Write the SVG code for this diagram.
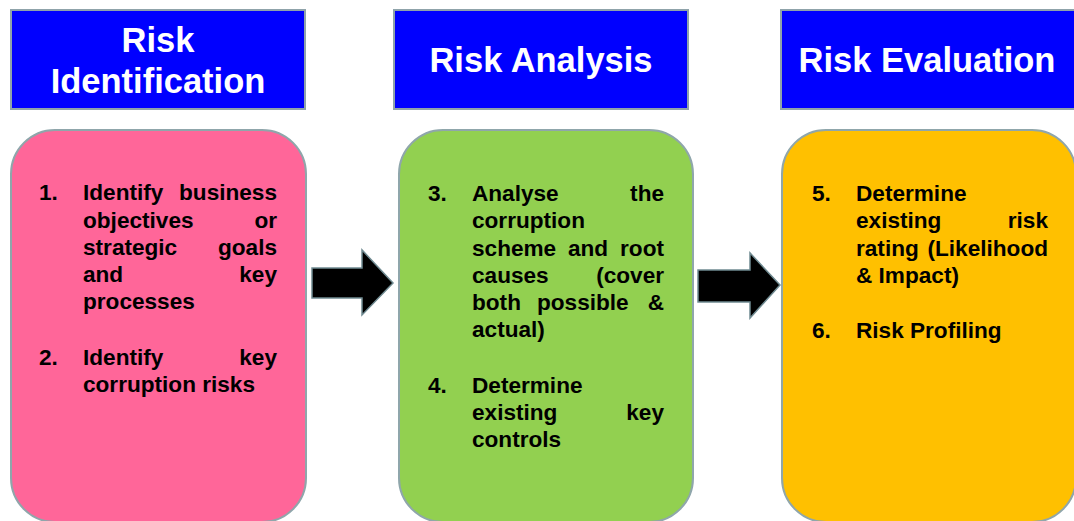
<svg xmlns="http://www.w3.org/2000/svg" width="1074" height="521" viewBox="0 0 1074 521">
<style>
.hdr{fill:#0000FF;stroke:#8FA3AA;stroke-width:2}
.ht{font-family:"Liberation Sans",Arial,sans-serif;font-weight:bold;font-size:34.5px;fill:#FFFFFF;text-anchor:middle}
.box{stroke:#8FA6AB;stroke-width:2}
.t{font-family:"Liberation Sans",Arial,sans-serif;font-weight:bold;font-size:22.6px;fill:#000000}
.e{text-anchor:end}
.arr{fill:#000000;stroke:#6F8A91;stroke-width:1.5}
</style>
<rect width="1074" height="521" fill="#FFFFFF"/>
<g id="header-identification">
<rect class="hdr" x="11" y="10" width="294" height="99"/>
<text class="ht" x="158" y="52">Risk</text>
<text class="ht" x="158" y="93">Identification</text>
</g>
<g id="header-analysis">
<rect class="hdr" x="394" y="10" width="294" height="99"/>
<text class="ht" x="541" y="72">Risk Analysis</text>
</g>
<g id="header-evaluation">
<rect class="hdr" x="781" y="10" width="296" height="99"/>
<text class="ht" x="927" y="72">Risk Evaluation</text>
</g>
<g id="box-identification">
<rect class="box" x="11" y="130" width="295" height="392" rx="44" ry="44" fill="#FF6699"/>
<text class="t" x="39" y="200">1.</text>
<text class="t" x="83" y="200">Identify</text><text class="t e" x="277" y="200">business</text>
<text class="t" x="83" y="228">objectives</text><text class="t e" x="277" y="228">or</text>
<text class="t" x="83" y="255">strategic</text><text class="t e" x="277" y="255">goals</text>
<text class="t" x="83" y="282">and</text><text class="t e" x="277" y="282">key</text>
<text class="t" x="83" y="309">processes</text>
<text class="t" x="39" y="365">2.</text>
<text class="t" x="83" y="365">Identify</text><text class="t e" x="277" y="365">key</text>
<text class="t" x="83" y="392">corruption risks</text>
</g>
<g id="box-analysis">
<rect class="box" x="399" y="130" width="294" height="392" rx="44" ry="44" fill="#92D050"/>
<text class="t" x="428" y="201">3.</text>
<text class="t" x="472" y="201">Analyse</text><text class="t e" x="664" y="201">the</text>
<text class="t" x="472" y="228">corruption</text>
<text class="t" x="472" y="256">scheme</text><text class="t" x="568" y="256">and</text><text class="t e" x="664" y="256">root</text>
<text class="t" x="472" y="283">causes</text><text class="t e" x="664" y="283">(cover</text>
<text class="t" x="472" y="310">both</text><text class="t" x="537" y="310">possible</text><text class="t e" x="664" y="310">&amp;</text>
<text class="t" x="472" y="337">actual)</text>
<text class="t" x="428" y="393">4.</text>
<text class="t" x="472" y="393">Determine</text>
<text class="t" x="472" y="420">existing</text><text class="t e" x="664" y="420">key</text>
<text class="t" x="472" y="447">controls</text>
</g>
<g id="box-evaluation">
<rect class="box" x="782" y="130" width="294" height="392" rx="44" ry="44" fill="#FFC000"/>
<text class="t" x="812" y="201">5.</text>
<text class="t" x="856" y="201">Determine</text>
<text class="t" x="856" y="228">existing</text><text class="t e" x="1048" y="228">risk</text>
<text class="t" x="856" y="256">rating</text><text class="t e" x="1048" y="256">(Likelihood</text>
<text class="t" x="856" y="283">&amp; Impact)</text>
<text class="t" x="812" y="338">6.</text>
<text class="t" x="856" y="338">Risk Profiling</text>
</g>
<g id="connectors">
<polygon class="arr" points="312,268 362,268 362,250 393,283 362,315 362,298 312,298"/>
<polygon class="arr" points="698,270 750,270 750,253 780,285 750,318 750,302 698,302"/>
</g>
</svg>
